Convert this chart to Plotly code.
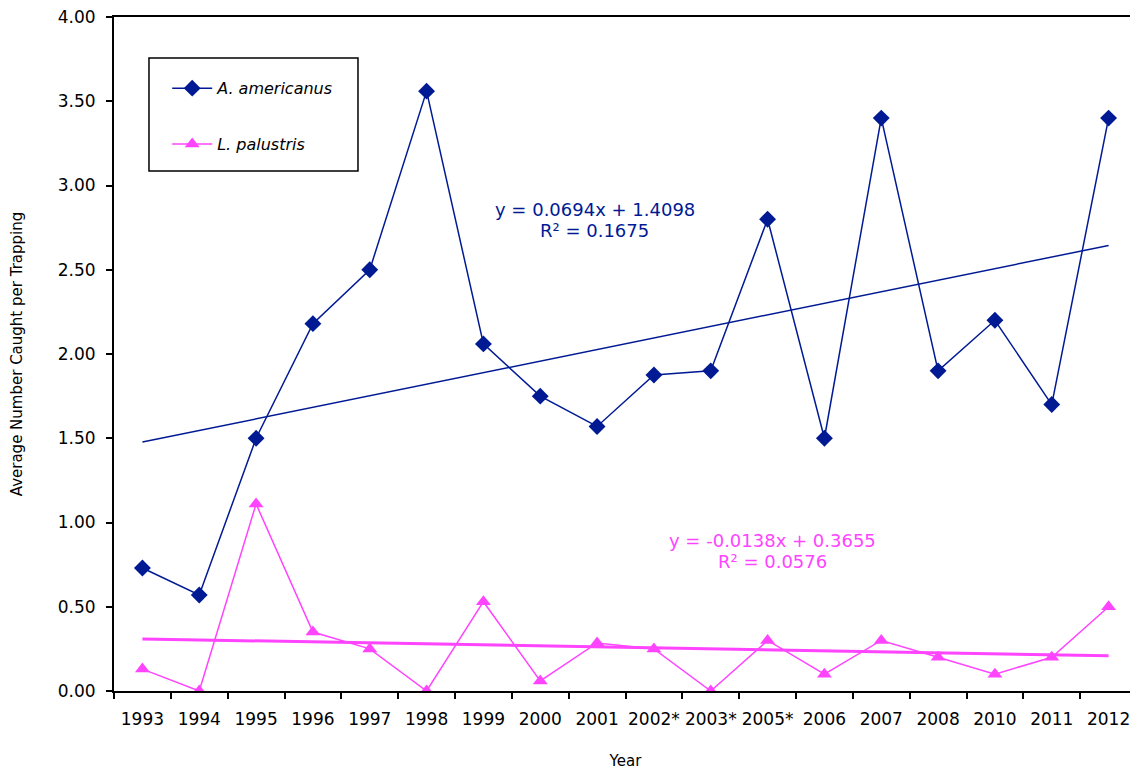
import numpy as np
import plotly.graph_objects as go

years = ["1993", "1994", "1995", "1996", "1997", "1998", "1999", "2000", "2001",
         "2002*", "2003*", "2005*", "2006", "2007", "2008", "2010", "2011", "2012"]
americanus = [0.73, 0.57, 1.50, 2.18, 2.50, 3.56, 2.06, 1.75, 1.57,
              1.875, 1.90, 2.80, 1.50, 3.40, 1.90, 2.20, 1.70, 3.40]
palustris = [0.13, 0.00, 1.11, 0.35, 0.25, 0.00, 0.53, 0.06, 0.285,
             0.25, 0.00, 0.30, 0.10, 0.30, 0.20, 0.10, 0.20, 0.50]
eq_am = ["y = 0.0694x + 1.4098", "R² = 0.1675"]
eq_pa = ["y = -0.0138x + 0.3655", "R² = 0.0576"]

BLUE = "#001a94"
PINK = "#ff44ff"
FONT = "DejaVu Sans"

idx = np.arange(1, len(years) + 1)
fit_am = np.polyval(np.polyfit(idx, americanus, 1), idx)
fit_pa = np.polyval(np.polyfit(idx, palustris, 1), idx)

fig = go.Figure()
fig.add_trace(go.Scatter(x=years, y=americanus, mode="lines+markers",
                         name="<i>A. americanus</i>", legendgroup="a",
                         line=dict(color=BLUE, width=1.5),
                         marker=dict(symbol="diamond", size=13, color=BLUE)))
fig.add_trace(go.Scatter(x=years, y=palustris, mode="lines+markers",
                         name="<i>L. palustris</i>", legendgroup="b",
                         line=dict(color=PINK, width=1.5),
                         marker=dict(symbol="triangle-up", size=13, color=PINK)))
fig.add_trace(go.Scatter(x=years, y=fit_am, mode="lines", showlegend=False,
                         line=dict(color=BLUE, width=1.5), hoverinfo="skip"))
fig.add_trace(go.Scatter(x=[years[0], years[-1]], y=[fit_pa[0], fit_pa[-1]], mode="lines",
                         showlegend=False, line=dict(color=PINK, width=3), hoverinfo="skip"))

for txt, y in zip(eq_am, [0.7137, 0.6825]):
    fig.add_annotation(x=0.470, y=y, xref="paper", yref="paper", showarrow=False,
                       xanchor="center", yanchor="middle",
                       text=txt, font=dict(family=FONT, size=18, color=BLUE))
for txt, y in zip(eq_pa, [0.2240, 0.1928]):
    fig.add_annotation(x=0.644, y=y, xref="paper", yref="paper", showarrow=False,
                       xanchor="center", yanchor="middle",
                       text=txt, font=dict(family=FONT, size=18, color=PINK))

# legend frame and right border
fig.add_shape(type="rect", xref="paper", yref="paper", x0=0.0342, x1=0.2385,
              y0=0.7715, y1=0.939, line=dict(color="black", width=1.5),
              fillcolor="rgba(0,0,0,0)")
fig.add_shape(type="line", xref="paper", yref="paper", x0=1, x1=1, y0=0, y1=1,
              line=dict(color="#444", width=1))

fig.update_layout(
    width=1130, height=762,
    margin=dict(l=106, r=1, t=9, b=79),
    paper_bgcolor="white", plot_bgcolor="white",
    font=dict(family=FONT, size=17, color="black"),
    showlegend=True,
    legend=dict(x=0.052, y=0.9195, xanchor="left", yanchor="top",
                borderwidth=0, bgcolor="rgba(0,0,0,0)",
                tracegroupgap=32, font=dict(family=FONT, size=16),
                itemwidth=40),
    xaxis=dict(type="category", showline=True, linecolor="black", linewidth=2,
               mirror=True, ticks="outside", ticklen=6, tickwidth=1.5,
               tickcolor="black", tickson="boundaries", showgrid=False,
               tickangle=0, automargin=False, ticklabelstandoff=12,
               ticklabeloverflow="allow",
               range=[-0.5, len(years) - 0.5],
               title=dict(text="Year", font=dict(size=15), standoff=27)),
    yaxis=dict(range=[0, 4], dtick=0.5, tickformat=".2f", showline=True,
               linecolor="black", linewidth=2, ticks="outside", ticklen=6,
               tickwidth=1.5, tickcolor="black", showgrid=False, zeroline=False,
               automargin=False, ticklabelstandoff=7, ticklabeloverflow="allow",
               title=dict(text="Average Number Caught per Trapping", font=dict(size=15),
                          standoff=31)),
)

fig.write_html("out.html")
